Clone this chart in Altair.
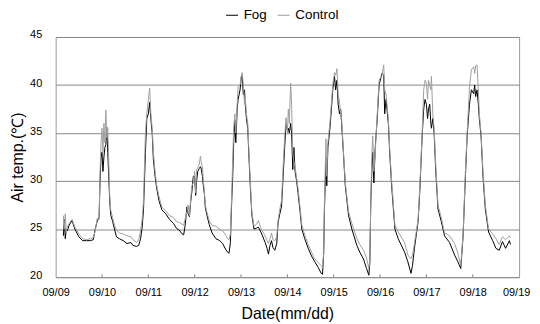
import altair as alt
import pandas as pd

# hours since 09/09 00:00
hours = [4, 4.5, 5, 5.5, 6, 7, 8.5, 10, 12, 14, 16, 18, 19.5, 20.5, 21.5, 22.5, 23,
         23.5, 24, 24.5, 25, 25.5, 26, 26.5, 27, 27.5, 28, 28.5, 29.5, 30.5, 31.5, 33, 35, 37, 39, 40, 42, 43, 44, 44.8, 45.5, 46, 46.5, 47.2,
         48, 48.7, 49.3, 50, 50.6, 51.5, 52.3, 53.5, 55, 57, 59, 61, 62.5, 64, 65.5, 66.3, 67, 68, 68.6, 69.3, 70, 70.5, 71.3,
         72, 72.5, 73, 73.6, 74.3, 75, 75.5, 76, 76.5, 77, 77.5, 78.3, 79.5, 81, 83, 85, 86.5, 88, 89, 89.8, 90.5, 91, 91.7, 92.2, 92.8, 93.3, 94, 94.5,
         95.5, 96.2, 96.6, 97.2, 97.8, 98.2, 98.8, 99.5, 100, 100.8, 101.6, 102.7, 104, 105, 106.5, 108.5, 109.5, 110.2, 111, 111.8, 112.5, 113.5, 114.5, 115.2, 116, 117, 117.8, 118.6, 119.3,
         120, 120.5, 121, 121.7, 122.2, 122.8, 123.4, 124, 124.8, 125.5, 126.5, 127.5, 129, 130.8, 132.5, 134.2, 136, 137.5, 138.2, 138.8, 139.2, 140, 140.4, 141, 142, 142.8, 143.5,
         144.4, 145, 145.7, 146.3, 147, 147.6, 148.1, 149, 150, 151.7, 153.4, 156, 157.5, 159.4, 161, 162.2, 162.7, 163.2, 163.8, 164.2, 164.8, 165.5, 166.5, 167.5,
         169, 169.9, 170.4, 171.1, 172.3, 173, 174, 175.7, 177.4, 180.7, 182.4, 184, 184.8, 185.8, 187.7, 188.6, 189.8, 190.6, 191.3,
         192, 192.6, 193.1, 193.7, 194.3, 194.6, 195.3, 196, 196.8, 198, 199.7, 201.4, 204, 206.6, 208.3, 209.8, 211, 212.2, 213.1, 214.3, 215.3,
         216.5, 217, 217.5, 218.2, 218.9, 219.4, 220.3, 221.3, 222.5, 224.2, 226.3, 228, 229.7, 231.4, 233, 235, 235.5]

fog = [24.3, 26.0, 24.0, 25.0, 24.8, 25.4, 25.9, 25.0, 24.2, 23.8, 23.8, 23.8, 23.9, 25.0, 25.8, 26.2, 30.0,
       32.5, 33.0, 31.0, 32.5, 33.5, 33.8, 35.6, 33.0, 30.5, 28.0, 26.5, 25.8, 25.0, 24.2, 24.0, 23.8, 23.5, 23.6, 23.3, 23.2, 23.3, 24.0, 25.2, 27.0, 30.0, 33.0, 36.5,
       37.0, 38.2, 36.5, 35.0, 32.3, 30.5, 29.3, 28.0, 27.0, 26.6, 26.0, 25.6, 25.1, 24.9, 24.5, 24.4, 25.3, 27.3, 26.6, 26.3, 28.0, 28.8, 30.5,
       30.5, 28.5, 30.0, 31.0, 31.3, 31.5, 31.2, 30.5, 29.5, 28.7, 27.3, 26.5, 25.5, 24.6, 24.0, 23.8, 23.5, 22.9, 22.6, 22.5, 23.6, 27.0, 30.5, 34.0, 36.3, 34.0, 37.5, 38.5,
       39.5, 40.9, 41.0, 39.0, 39.5, 38.0, 36.5, 35.5, 33.0, 29.5, 26.5, 25.0, 25.1, 25.2, 24.6, 23.6, 23.0, 22.4, 23.3, 23.8, 23.1, 22.8, 23.5, 25.7, 26.5, 27.4, 30.5, 33.5, 36.0,
       35.3, 35.5, 35.0, 36.0, 35.0, 31.2, 33.5, 31.0, 30.0, 28.8, 27.0, 25.0, 24.0, 23.0, 22.2, 21.6, 21.0, 20.4, 20.3, 22.5, 27.0, 32.5, 29.5, 33.5, 35.4, 37.5, 39.5,
       40.9, 39.5, 40.5, 38.0, 37.0, 37.5, 36.0, 33.0, 29.5, 26.4, 25.0, 23.3, 22.6, 21.9, 20.9, 20.2, 21.5, 27.8, 31.5, 33.0, 29.8, 33.5, 36.4, 40.0,
       41.2, 41.0, 37.0, 38.5, 36.0, 32.9, 29.5, 25.0, 24.0, 22.6, 21.6, 20.4, 21.2, 23.0, 25.8, 29.0, 34.7, 37.5, 38.5,
       38.0, 36.5, 37.5, 38.0, 36.0, 35.5, 36.5, 35.0, 31.2, 27.1, 25.8, 24.3, 23.6, 22.3, 21.6, 20.9, 24.3, 30.5, 34.7, 38.0, 39.5,
       39.1, 40.0, 38.8, 39.5, 38.0, 36.5, 34.7, 30.5, 27.1, 24.7, 23.8, 23.0, 22.8, 23.7, 23.0, 23.8, 23.4]

control = [26.4, 25.0, 26.6, 24.6, 25.2, 25.6, 26.0, 25.2, 24.5, 24.0, 23.9, 24.0, 24.1, 24.8, 26.1, 26.0, 31.0,
           34.0, 35.5, 33.0, 36.0, 34.0, 37.4, 34.5, 35.5, 32.0, 28.5, 27.0, 26.2, 25.4, 24.9, 24.6, 24.5, 24.3, 24.2, 23.9, 23.6, 23.9, 24.8, 26.0, 28.0, 31.5, 35.0, 37.0,
           38.5, 39.7, 37.0, 35.5, 33.0, 31.0, 29.6, 28.4, 27.3, 26.9, 26.4, 26.2, 25.8, 25.7, 25.5, 25.4, 26.0, 26.8, 27.5, 26.4, 28.2, 29.5, 29.8,
           31.0, 28.8, 31.2, 31.4, 31.7, 32.6, 31.8, 31.5, 30.0, 29.0, 27.5, 26.8, 25.9, 25.4, 25.3, 25.0, 24.8, 24.4, 24.0, 23.9, 24.5, 27.5, 32.2, 35.5, 37.0, 35.0, 38.0, 39.8,
           40.0, 41.0, 41.3, 40.0, 38.0, 38.6, 37.0, 36.0, 33.5, 30.0, 26.8, 25.3, 25.5, 25.9, 25.0, 24.3, 23.8, 23.5, 24.0, 24.6, 23.9, 23.8, 24.2, 25.9, 27.0, 28.0, 31.5, 34.7, 36.6,
           35.0, 37.5, 36.0, 40.2, 38.0, 33.0, 32.0, 31.5, 30.3, 29.3, 27.4, 25.4, 24.4, 23.4, 22.6, 21.9, 21.5, 21.2, 21.0, 22.5, 27.8, 34.4, 30.5, 34.0, 36.0, 38.1, 40.0,
           41.3, 41.0, 41.7, 39.0, 38.3, 37.0, 36.4, 33.2, 29.8, 26.8, 25.6, 24.0, 23.4, 22.8, 22.0, 20.9, 21.8, 28.0, 32.9, 34.7, 31.0, 33.0, 36.8, 40.5,
           41.0, 42.1, 39.5, 39.0, 36.5, 33.3, 30.0, 25.4, 24.7, 23.6, 22.3, 21.9, 22.3, 23.5, 26.0, 29.5, 35.0, 39.5, 40.5,
           40.2, 38.5, 40.5, 40.0, 39.5, 40.9, 37.0, 35.5, 31.8, 27.5, 26.2, 24.6, 24.3, 23.5, 22.5, 21.2, 24.5, 31.0, 35.0, 39.8, 41.6,
           41.9, 41.2, 42.0, 42.1, 39.5, 37.0, 35.0, 31.0, 27.5, 25.0, 24.5, 24.0, 23.4, 24.2, 23.9, 24.3, 24.1]

series_names = ["Fog", "Control"]
series_colors = ["#000000", "#9e9e9e"]
tick_dates = list(range(9, 20))
y_ticks = [20, 25, 30, 35, 40, 45]

assert len(hours) == len(fog) == len(control)

start = pd.Timestamp("2012-09-09")
times = [start + pd.Timedelta(hours=h) for h in hours]
wide = pd.DataFrame({"time": times, "Fog": fog, "Control": control})
df = wide.melt("time", var_name="series", value_name="temp")

tick_df = pd.DataFrame({"time": [pd.Timestamp(2012, 9, d) for d in tick_dates[1:-1]],
                        "y0": 20, "y1": 20.3})

x_scale = alt.Scale(domain=[alt.DateTime(year=2012, month=9, date=9),
                            alt.DateTime(year=2012, month=9, date=19)])
y_scale = alt.Scale(domain=[20, 45], nice=False, zero=False)

lines = alt.Chart(df).mark_line(strokeWidth=1).encode(
    x=alt.X("time:T", scale=x_scale,
            axis=alt.Axis(values=[alt.DateTime(year=2012, month=9, date=d) for d in tick_dates],
                          format="%m/%d", title="Date(mm/dd)", grid=False,
                          labelPadding=9, titlePadding=9, labelFlush=False,
                          labelOffset=alt.ExprRef(expr="datum.value > datetime(2012, 8, 18, 12) ? -3 : 0"))),
    y=alt.Y("temp:Q", scale=y_scale,
            axis=alt.Axis(values=y_ticks, title="Air temp.(℃)", grid=True,
                          gridColor="#888888", gridWidth=1, labelPadding=14,
                          titlePadding=4, labelOffset=-2)),
    color=alt.Color("series:N", scale=alt.Scale(domain=series_names, range=series_colors),
                    legend=alt.Legend(title=None, orient="none", legendX=171, legendY=-29,
                                      direction="horizontal", symbolType="stroke",
                                      symbolSize=144, symbolStrokeWidth=1,
                                      labelFontSize=13.5, labelOffset=5,
                                      columnPadding=8, padding=0,
                                      labelFont="Liberation Sans")),
    order=alt.Order("series:N", sort="descending"),
)

ticks = alt.Chart(tick_df).mark_rule(color="#888888", strokeWidth=1).encode(
    x="time:T", y="y0:Q", y2="y1:Q"
)

chart = alt.layer(lines, ticks).properties(
    width=467, height=242,
    autosize=alt.AutoSizeParams(type="none"),
    padding={"left": 48, "top": 28, "right": 13, "bottom": 46},
).configure_view(stroke="#999999", strokeWidth=1).configure_axis(
    domain=False, ticks=False, labelFont="Liberation Sans", labelFontSize=11,
    labelColor="#000000", titleFont="Liberation Sans", titleFontSize=16,
    titleFontWeight="normal", titleColor="#000000"
)

chart.save("out.html", embed_options={"renderer": "svg", "actions": False})
